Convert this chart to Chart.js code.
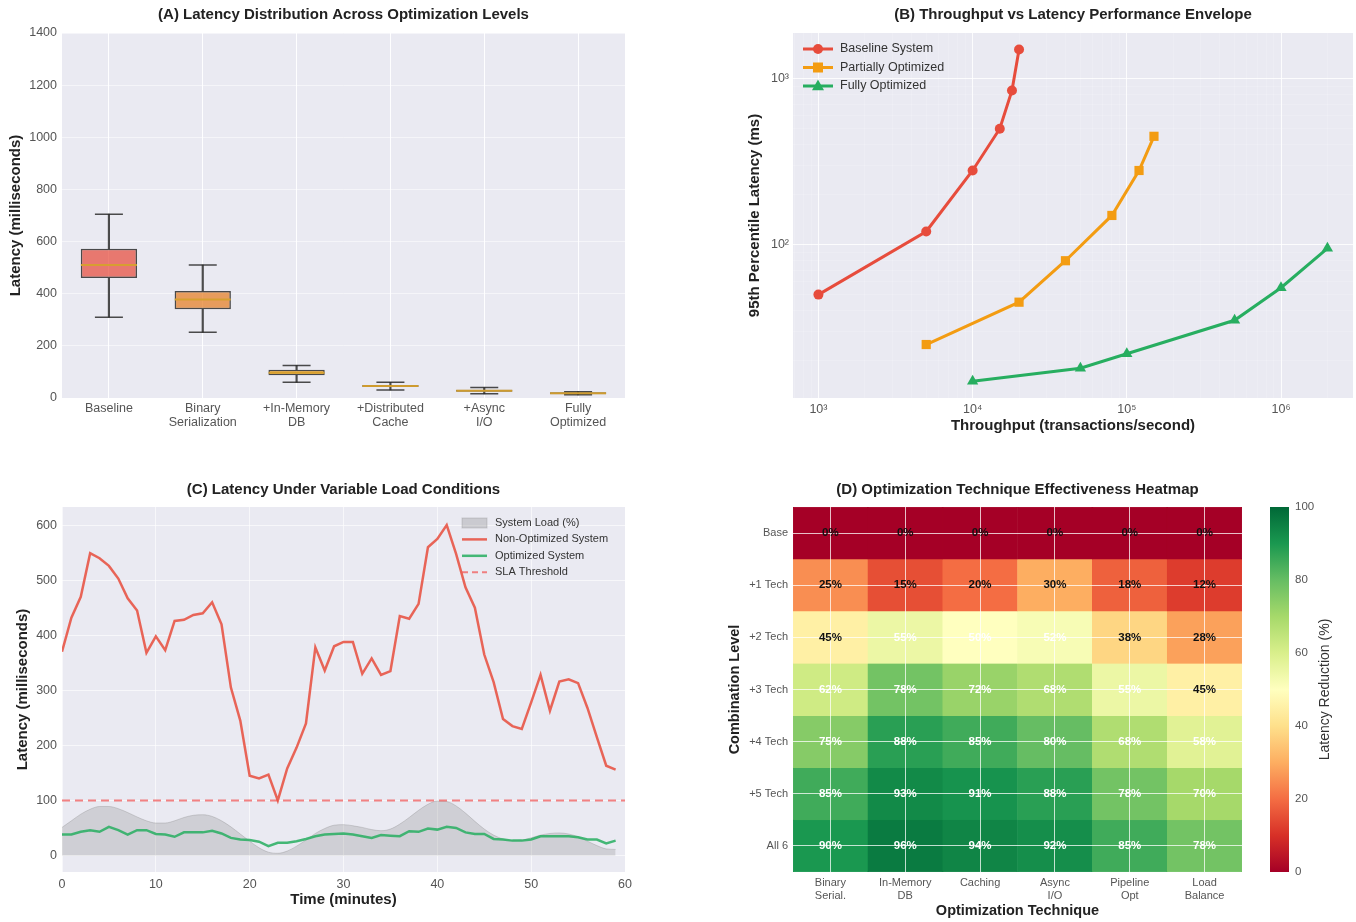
<!DOCTYPE html>
<html>
<head>
<meta charset="utf-8">
<title>Latency optimization panels</title>
<script src="https://cdn.jsdelivr.net/npm/chart.js@4.4.1/dist/chart.umd.min.js"></script>
<style>
  html, body { margin: 0; padding: 0; background: #fff; }
  #wrap { position: relative; width: 1356px; height: 922px; overflow: hidden; }
  canvas { position: absolute; }
</style>
</head>
<body>
<div id="wrap">
  <canvas id="boxChart" width="640" height="440" style="left:0;top:0"></canvas>
  <canvas id="envelopeChart" width="616" height="440" style="left:740px;top:0"></canvas>
  <canvas id="loadChart" width="640" height="462" style="left:0;top:460px"></canvas>
  <canvas id="heatChart" width="560" height="462" style="left:720px;top:460px"></canvas>
  <canvas id="colorbar" width="100" height="462" style="left:1256px;top:460px"></canvas>
</div>
<script>
// ---- (A) latency distribution per optimization level (ms)
const optLevels = ['Baseline', ['Binary', 'Serialization'], ['+In-Memory', 'DB'], ['+Distributed', 'Cache'], ['+Async', 'I/O'], ['Fully', 'Optimized']];
const whiskerLow = [310, 252, 60, 31, 16, 12];
const q1 = [460, 340, 87, 42, 24, 14];
const medians = [510, 378, 97, 46, 28, 18];
const q3 = [572, 410, 108, 50, 32, 22];
const whiskerHigh = [705, 510, 125, 60, 40, 24];
const boxColors = ['rgba(231,76,60,0.72)', 'rgba(230,126,34,0.72)', 'rgba(243,156,18,0.78)',
                   'rgba(212,160,30,0.8)', 'rgba(215,180,90,0.8)', 'rgba(200,165,60,0.8)'];

// ---- (B) throughput vs p95 latency
const baselineTput = [1000, 5000, 10000, 15000, 18000, 20000];
const baselineLat = [50, 120, 280, 500, 850, 1500];
const partialTput = [5000, 20000, 40000, 80000, 120000, 150000];
const partialLat = [25, 45, 80, 150, 280, 450];
const fullTput = [10000, 50000, 100000, 500000, 1000000, 2000000];
const fullLat = [15, 18, 22, 35, 55, 95];

// ---- (C) latency under variable load, one value per minute
const minutes = Array.from({ length: 60 }, (_, i) => i);
const nonOptimized = [370, 432, 470, 549, 540, 526, 503, 467, 445, 368,
                      398, 373, 426, 428, 437, 440, 460, 420, 305, 245,
                      145, 140, 147, 100, 158, 196, 240, 378, 336, 380,
                      388, 388, 330, 358, 328, 335, 435, 430, 457, 560,
                      575, 600, 548, 487, 450, 365, 315, 248, 235, 230,
                      278, 328, 263, 316, 320, 313, 268, 215, 163, 156];
const optimized = [38, 38, 43, 46, 43, 52, 46, 38, 46, 46,
                   39, 38, 34, 42, 42, 42, 45, 40, 32, 29,
                   28, 25, 17, 23, 23, 26, 30, 35, 38, 39,
                   40, 38, 35, 32, 37, 36, 35, 44, 43, 49,
                   47, 52, 50, 42, 39, 39, 30, 29, 27, 27,
                   29, 35, 35, 35, 35, 33, 29, 29, 22, 27];
const systemLoad = [51, 63, 75, 84, 89, 89, 85, 78, 70, 63,
                    59, 59, 63, 69, 73, 74, 71, 63, 52, 39,
                    26, 14, 6, 4, 8, 17, 28, 40, 49, 55,
                    56, 54, 51, 47, 45, 48, 57, 69, 82, 93,
                    99, 98, 90, 77, 62, 48, 37, 30, 27, 28,
                    32, 37, 40, 41, 39, 34, 26, 18, 12, 11];
const slaThreshold = 100;

// ---- (D) technique effectiveness (% latency reduction)
const techniques = [['Binary', 'Serial.'], ['In-Memory', 'DB'], 'Caching', ['Async', 'I/O'], ['Pipeline', 'Opt'], ['Load', 'Balance']];
const comboLevels = ['Base', '+1 Tech', '+2 Tech', '+3 Tech', '+4 Tech', '+5 Tech', 'All 6'];
const heatValues = [
  [0, 0, 0, 0, 0, 0],
  [25, 15, 20, 30, 18, 12],
  [45, 55, 50, 52, 38, 28],
  [62, 78, 72, 68, 55, 45],
  [75, 88, 85, 80, 68, 58],
  [85, 93, 91, 88, 78, 70],
  [90, 96, 94, 92, 85, 78]
];

const FONT = "'Liberation Sans', Arial, sans-serif";
Chart.defaults.font.family = FONT;
Chart.defaults.font.size = 12.5;
Chart.defaults.color = '#555';
Chart.defaults.animation = false;
Chart.defaults.events = [];
Chart.defaults.layout.autoPadding = false;
Chart.defaults.plugins.legend.display = false;
Chart.defaults.plugins.tooltip.enabled = false;

const BG = '#eaeaf2';
const EDGE = 'rgba(45,45,45,0.85)';
const MEDIAN = 'rgba(214,160,45,0.95)';
const AXIS_TITLE = { size: 15, weight: 'bold' };

const RDYLGN = ['#a50026', '#d73027', '#f46d43', '#fdae61', '#fee08b', '#ffffbf',
                '#d9ef8b', '#a6d96a', '#66bd63', '#1a9850', '#006837'];
function hexRgb(h) {
  return [parseInt(h.slice(1, 3), 16), parseInt(h.slice(3, 5), 16), parseInt(h.slice(5, 7), 16)];
}
function rdylgn(t) {
  t = Math.min(1, Math.max(0, t));
  const p = t * 10, i = Math.min(9, Math.floor(p)), f = p - i;
  const a = hexRgb(RDYLGN[i]), b = hexRgb(RDYLGN[i + 1]);
  const c = a.map((v, k) => Math.round(v + (b[k] - v) * f));
  return `rgb(${c[0]},${c[1]},${c[2]})`;
}

// keep label overhang from shrinking the plot area
const fixHeight = h => s => { s.height = h; s.paddingLeft = 0; s.paddingRight = 0; };
const fixWidth = w => s => { s.width = w; s.paddingTop = 0; s.paddingBottom = 0; };

// plot background
Chart.register({
  id: 'plotBg',
  beforeDraw(chart, args, o) {
    if (!o.color) return;
    const { ctx, chartArea: a } = chart;
    ctx.save();
    ctx.fillStyle = o.color;
    ctx.fillRect(a.left, a.top, a.right - a.left, a.bottom - a.top);
    ctx.restore();
  }
});

// title centred over the plot area, like matplotlib
Chart.register({
  id: 'panelTitle',
  afterDraw(chart, args, o) {
    if (!o.text) return;
    const { ctx, chartArea: a } = chart;
    ctx.save();
    ctx.font = `bold 15px ${FONT}`;
    ctx.fillStyle = '#222';
    ctx.textAlign = 'center';
    ctx.textBaseline = 'middle';
    ctx.fillText(o.text, (a.left + a.right) / 2, o.y);
    ctx.restore();
  }
});

function drawMarker(ctx, kind, x, y, r) {
  ctx.beginPath();
  if (kind === 'circle') {
    ctx.arc(x, y, r, 0, Math.PI * 2);
  } else if (kind === 'rect') {
    ctx.rect(x - r, y - r, 2 * r, 2 * r);
  } else if (kind === 'triangle') {
    ctx.moveTo(x, y - r * 1.1);
    ctx.lineTo(x + r, y + r * 0.7);
    ctx.lineTo(x - r, y + r * 0.7);
    ctx.closePath();
  }
  ctx.fill();
}

// legends drawn inside the axes
Chart.register({
  id: 'panelLegend',
  afterDraw(chart, args, o) {
    if (!o.items) return;
    const ctx = chart.ctx;
    ctx.save();
    ctx.font = `${o.fontSize}px ${FONT}`;
    ctx.textBaseline = 'middle';
    o.items.forEach((it, i) => {
      const y = o.y + i * o.spacing;
      const x0 = o.x, x1 = o.x + o.symbolWidth;
      if (it.kind === 'patch') {
        ctx.fillStyle = it.fill;
        ctx.fillRect(x0, y - 5, x1 - x0, 10);
        ctx.strokeStyle = it.edge;
        ctx.lineWidth = 1;
        ctx.strokeRect(x0, y - 5, x1 - x0, 10);
      } else {
        ctx.strokeStyle = it.color;
        ctx.lineWidth = it.width;
        ctx.setLineDash(it.dash || []);
        ctx.beginPath();
        ctx.moveTo(x0, y);
        ctx.lineTo(x1, y);
        ctx.stroke();
        ctx.setLineDash([]);
        if (it.marker) {
          ctx.fillStyle = it.color;
          drawMarker(ctx, it.marker, (x0 + x1) / 2, y, it.markerSize);
        }
      }
      ctx.fillStyle = '#333';
      ctx.fillText(it.label, x1 + o.gap, y);
    });
    ctx.restore();
  }
});

// percentage labels inside heatmap cells, drawn over the grid
Chart.register({
  id: 'cellLabels',
  afterDraw(chart, args, o) {
    if (!o.values) return;
    const ctx = chart.ctx;
    ctx.save();
    ctx.font = `bold 11.5px ${FONT}`;
    ctx.textAlign = 'center';
    ctx.textBaseline = 'middle';
    o.values.forEach((row, r) => {
      const meta = chart.getDatasetMeta(r);
      row.forEach((v, c) => {
        const el = meta.data[c];
        ctx.fillStyle = v < 50 ? '#111' : '#fff';
        ctx.fillText(v + '%', el.x, (el.y + el.base) / 2);
      });
    });
    ctx.restore();
  }
});

// rotated colorbar label
Chart.register({
  id: 'sideLabel',
  afterDraw(chart, args, o) {
    if (!o.text) return;
    const { ctx, chartArea: a } = chart;
    ctx.save();
    ctx.translate(o.x, (a.top + a.bottom) / 2);
    ctx.rotate(-Math.PI / 2);
    ctx.font = `${o.size}px ${FONT}`;
    ctx.fillStyle = '#333';
    ctx.textAlign = 'center';
    ctx.textBaseline = 'middle';
    ctx.fillText(o.text, 0, 0);
    ctx.restore();
  }
});

// ---------------- (A) box plots ----------------
const boxCaps = (data, r) => ({
  type: 'line', data: data, showLine: false, pointStyle: 'line',
  pointRadius: r, borderColor: EDGE, pointBorderColor: EDGE, pointBorderWidth: 1.5
});
new Chart(document.getElementById('boxChart'), {
  type: 'bar',
  data: {
    labels: optLevels,
    datasets: [
      { type: 'line', data: medians, showLine: false, pointStyle: 'line', pointRadius: 28,
        borderColor: MEDIAN, pointBorderColor: MEDIAN, pointBorderWidth: 2 },
      boxCaps(whiskerHigh, 14),
      boxCaps(whiskerLow, 14),
      { data: optLevels.map((_, i) => [q1[i], q3[i]]), backgroundColor: boxColors,
        borderColor: EDGE, borderWidth: 1.5, borderSkipped: false,
        grouped: false, barPercentage: 0.6, categoryPercentage: 1 },
      { data: optLevels.map((_, i) => [q3[i], whiskerHigh[i]]), backgroundColor: EDGE,
        borderWidth: 0, barThickness: 1.5, grouped: false },
      { data: optLevels.map((_, i) => [whiskerLow[i], q1[i]]), backgroundColor: EDGE,
        borderWidth: 0, barThickness: 1.5, grouped: false }
    ]
  },
  options: {
    responsive: false,
    layout: { padding: { top: 33, right: 15, left: 0, bottom: 0 } },
    scales: {
      x: {
        grid: { color: 'rgba(255,255,255,0.95)', offset: false, drawTicks: false },
        border: { display: false },
        ticks: { padding: 4, maxRotation: 0, autoSkip: false, font: { size: 12.5, lineHeight: 1.12 } },
        afterFit: fixHeight(42)
      },
      y: {
        min: 0, max: 1400,
        ticks: { stepSize: 200, padding: 5, callback: v => String(v) },
        grid: { color: 'rgba(255,255,255,0.5)', drawTicks: false },
        border: { display: false },
        title: { display: true, text: 'Latency (milliseconds)', font: AXIS_TITLE, color: '#222', padding: { top: 7, bottom: 0 } },
        afterFit: fixWidth(62)
      }
    },
    plugins: {
      plotBg: { color: BG },
      panelTitle: { text: '(A) Latency Distribution Across Optimization Levels', y: 15 }
    }
  }
});

// ---------------- (B) throughput vs latency ----------------
const SUP = { 2: '²', 3: '³', 4: '⁴', 5: '⁵', 6: '⁶' };
function decadeLabel(v) {
  const e = Math.round(Math.log10(v));
  return Math.abs(Math.log10(v) - e) < 1e-9 ? '10' + SUP[e] : '';
}
function logTicks(lo, hi) {
  const out = [];
  for (let e = Math.floor(Math.log10(lo)); e <= Math.ceil(Math.log10(hi)); e++) {
    for (let m = 1; m <= 9; m++) {
      const v = m * Math.pow(10, e);
      if (v >= lo && v <= hi) out.push({ value: v });
    }
  }
  return out;
}
const logGrid = c => (c.tick && decadeLabel(c.tick.value) !== '') ? 'rgba(255,255,255,0.85)' : 'rgba(255,255,255,0.18)';
const RED = '#e74c3c', ORANGE = '#f39c12', GREEN = '#27ae60';
const envSeries = (label, xs, ys, color, style, r) => ({
  label: label, data: xs.map((x, i) => ({ x: x, y: ys[i] })),
  borderColor: color, backgroundColor: color, borderWidth: 3,
  pointStyle: style, pointRadius: r, pointBorderWidth: 0
});
new Chart(document.getElementById('envelopeChart'), {
  type: 'line',
  data: {
    datasets: [
      envSeries('Baseline System', baselineTput, baselineLat, RED, 'circle', 5),
      envSeries('Partially Optimized', partialTput, partialLat, ORANGE, 'rect', 6.5),
      envSeries('Fully Optimized', fullTput, fullLat, GREEN, 'triangle', 6.5)
    ]
  },
  options: {
    responsive: false,
    layout: { padding: { top: 33, right: 3, left: 0, bottom: 0 } },
    scales: {
      x: {
        type: 'logarithmic', min: 684, max: 2.93e6,
        afterBuildTicks: s => { s.ticks = logTicks(684, 2.93e6); },
        ticks: { callback: v => decadeLabel(v), autoSkip: false, maxRotation: 0, padding: 4 },
        grid: { color: logGrid, drawTicks: false },
        border: { display: false },
        title: { display: true, text: 'Throughput (transactions/second)', font: AXIS_TITLE, color: '#222', padding: { top: 0, bottom: 5 } },
        afterFit: fixHeight(42)
      },
      y: {
        type: 'logarithmic', min: 11.9, max: 1888,
        afterBuildTicks: s => { s.ticks = logTicks(11.9, 1888); },
        ticks: { callback: v => decadeLabel(v), autoSkip: false, padding: 4 },
        grid: { color: logGrid, drawTicks: false },
        border: { display: false },
        title: { display: true, text: '95th Percentile Latency (ms)', font: AXIS_TITLE, color: '#222', padding: { top: 6, bottom: 0 } },
        afterFit: fixWidth(53)
      }
    },
    plugins: {
      plotBg: { color: BG },
      panelTitle: { text: '(B) Throughput vs Latency Performance Envelope', y: 15 },
      panelLegend: {
        x: 63, y: 49, spacing: 18.5, symbolWidth: 30, gap: 7, fontSize: 12.5,
        items: [
          { label: 'Baseline System', color: RED, width: 3, marker: 'circle', markerSize: 5 },
          { label: 'Partially Optimized', color: ORANGE, width: 3, marker: 'rect', markerSize: 5 },
          { label: 'Fully Optimized', color: GREEN, width: 3, marker: 'triangle', markerSize: 6 }
        ]
      }
    }
  }
});

// ---------------- (C) latency under variable load ----------------
const LINE_RED = 'rgba(231,76,60,0.85)';
const LINE_GREEN = 'rgba(39,174,96,0.85)';
const SLA_RED = 'rgba(240,90,90,0.75)';
new Chart(document.getElementById('loadChart'), {
  type: 'line',
  data: {
    datasets: [
      { label: 'Optimized System', data: minutes.map((t, i) => ({ x: t, y: optimized[i] })),
        borderColor: LINE_GREEN, borderWidth: 2.5, pointRadius: 0, order: 1 },
      { label: 'Non-Optimized System', data: minutes.map((t, i) => ({ x: t, y: nonOptimized[i] })),
        borderColor: LINE_RED, borderWidth: 2.5, pointRadius: 0, order: 2 },
      { label: 'SLA Threshold', data: [{ x: 0, y: slaThreshold }, { x: 60, y: slaThreshold }],
        borderColor: SLA_RED, borderWidth: 2, borderDash: [8, 5], pointRadius: 0, order: 3 },
      { label: 'System Load (%)', data: minutes.map((t, i) => ({ x: t, y: systemLoad[i] })),
        fill: 'origin', backgroundColor: 'rgba(128,128,128,0.25)', borderColor: 'rgba(128,128,128,0.3)',
        borderWidth: 1, pointRadius: 0, tension: 0.4, cubicInterpolationMode: 'monotone', order: 4 }
    ]
  },
  options: {
    responsive: false,
    layout: { padding: { top: 47, right: 15, left: 0, bottom: 0 } },
    scales: {
      x: {
        type: 'linear', min: 0, max: 60,
        ticks: { stepSize: 10, padding: 5, maxRotation: 0 },
        grid: { color: 'rgba(255,255,255,0.6)', drawTicks: false },
        border: { display: false },
        title: { display: true, text: 'Time (minutes)', font: AXIS_TITLE, color: '#222', padding: { top: 0, bottom: 13 } },
        afterFit: fixHeight(50)
      },
      y: {
        min: -30, max: 633,
        afterBuildTicks: s => { s.ticks = s.ticks.filter(t => t.value >= 0 && t.value % 100 === 0); },
        ticks: { stepSize: 100, padding: 5 },
        grid: { color: 'rgba(255,255,255,0.6)', drawTicks: false },
        border: { display: false },
        title: { display: true, text: 'Latency (milliseconds)', font: AXIS_TITLE, color: '#222', padding: { top: 14, bottom: 0 } },
        afterFit: fixWidth(62)
      }
    },
    plugins: {
      plotBg: { color: BG },
      panelTitle: { text: '(C) Latency Under Variable Load Conditions', y: 30 },
      panelLegend: {
        x: 462, y: 63, spacing: 16.4, symbolWidth: 25, gap: 8, fontSize: 11,
        items: [
          { label: 'System Load (%)', kind: 'patch', fill: 'rgba(128,128,128,0.3)', edge: 'rgba(128,128,128,0.3)' },
          { label: 'Non-Optimized System', color: LINE_RED, width: 2.5 },
          { label: 'Optimized System', color: LINE_GREEN, width: 2.5 },
          { label: 'SLA Threshold', color: SLA_RED, width: 2, dash: [6, 4] }
        ]
      }
    }
  }
});

// ---------------- (D) heatmap ----------------
new Chart(document.getElementById('heatChart'), {
  type: 'bar',
  data: {
    labels: techniques,
    datasets: heatValues.map((row, r) => ({
      data: row.map(() => [r, r + 1]),
      backgroundColor: row.map(v => rdylgn(v / 100)),
      borderColor: row.map(v => rdylgn(v / 100)),
      borderWidth: 0.5, borderSkipped: false,
      grouped: false, barPercentage: 1, categoryPercentage: 1
    }))
  },
  options: {
    responsive: false,
    layout: { padding: { top: 47, right: 38, left: 0, bottom: 0 } },
    scales: {
      x: {
        grid: { color: 'rgba(255,255,255,0.75)', offset: false, drawTicks: false, z: 1 },
        border: { display: false },
        ticks: { padding: 4, maxRotation: 0, autoSkip: false, font: { size: 11, lineHeight: 1.18 } },
        title: { display: true, text: 'Optimization Technique', font: { size: 14.5, weight: 'bold' }, color: '#222', padding: { top: 0, bottom: 2 } },
        afterFit: fixHeight(50)
      },
      y: {
        min: 0, max: 7, reverse: true,
        afterBuildTicks: s => { s.ticks = comboLevels.map((_, i) => ({ value: i + 0.5 })); },
        ticks: { callback: (v, i) => comboLevels[i], padding: 5, font: { size: 11 } },
        grid: { color: 'rgba(255,255,255,0.75)', drawTicks: false, z: 1 },
        border: { display: false },
        title: { display: true, text: 'Combination Level', font: { size: 14.5, weight: 'bold' }, color: '#222', padding: { top: 6, bottom: 0 } },
        afterFit: fixWidth(73)
      }
    },
    plugins: {
      panelTitle: { text: '(D) Optimization Technique Effectiveness Heatmap', y: 30 },
      cellLabels: { values: heatValues }
    }
  }
});

// ---------------- colorbar ----------------
const cbarRange = [0, 100];
new Chart(document.getElementById('colorbar'), {
  type: 'bar',
  data: {
    labels: [''],
    datasets: [{
      data: [cbarRange],
      backgroundColor: c => {
        const chart = c.chart;
        if (!chart.chartArea) return null;
        const y = chart.scales.y;
        const g = chart.ctx.createLinearGradient(0, y.getPixelForValue(cbarRange[0]), 0, y.getPixelForValue(cbarRange[1]));
        RDYLGN.forEach((col, i) => g.addColorStop(i / 10, col));
        return g;
      },
      borderWidth: 0, barPercentage: 1, categoryPercentage: 1
    }]
  },
  options: {
    responsive: false,
    layout: { padding: { top: 47, bottom: 50, left: 14, right: 0 } },
    scales: {
      x: { display: false },
      y: {
        position: 'right', min: 0, max: 100,
        ticks: { stepSize: 20, padding: 6, font: { size: 11.5 } },
        grid: { display: false, drawTicks: false },
        border: { display: false },
        afterFit: fixWidth(67)
      }
    },
    plugins: {
      sideLabel: { text: 'Latency Reduction (%)', x: 69, size: 14 }
    }
  }
});
</script>
</body>
</html>
